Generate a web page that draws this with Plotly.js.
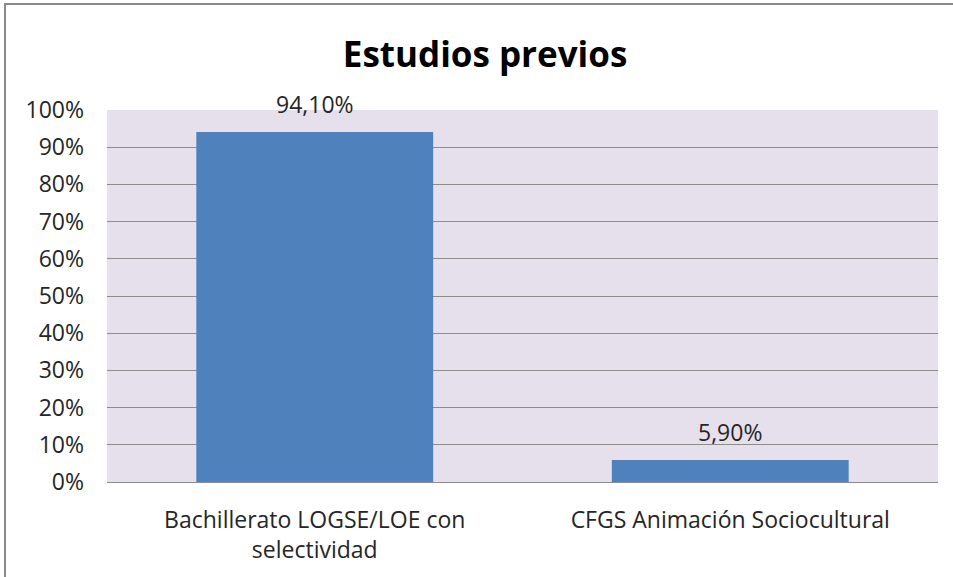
<!DOCTYPE html>
<html>
<head>
<meta charset="utf-8">
<script src="https://cdn.plot.ly/plotly-3.0.1.min.js"></script>
<style>
html,body{margin:0;padding:0;background:#fff;overflow:hidden;}
#frame{position:absolute;left:4px;top:3px;width:1000px;height:1000px;border:2px solid #8a8a8a;box-sizing:border-box;pointer-events:none;z-index:5;}
#chart{position:absolute;left:0;top:0;width:953px;height:577px;}
</style>
</head>
<body>
<div id="chart"></div>
<div id="frame"></div>
<script>
const categories = ["Bachillerato LOGSE/LOE con<br>selectividad", "CFGS Animación Sociocultural"];
const values = [94.1, 5.9];
const tickVals = [0,10,20,30,40,50,60,70,80,90,100];

const fontFam = "Open Sans, Liberation Sans, sans-serif";

const trace = {
  type: 'bar',
  x: categories,
  y: values,
  marker: {color: '#4F81BD'},
  hoverinfo: 'none'
};

const annotations = categories.map((c, i) => ({
  x: c, y: values[i], xref: 'x', yref: 'y',
  text: values[i].toFixed(2).replace('.', ',') + '%',
  showarrow: false, yanchor: 'bottom', yshift: 10,
  font: {family: fontFam, size: 23, color: '#262626'}
}));

const layout = {
  width: 953, height: 577,
  margin: {l: 107, r: 15, t: 110, b: 95},
  paper_bgcolor: '#ffffff',
  plot_bgcolor: '#E6E0EC',
  title: {text: '<b>Estudios previos</b>', x: 0.509, xanchor: 'center', y: 0.905, yanchor: 'middle',
          font: {family: fontFam, size: 35, color: '#000'}},
  bargap: 0.43,
  showlegend: false,
  xaxis: {
    tickfont: {family: fontFam, size: 23, color: '#262626'},
    showgrid: false, zeroline: false, showline: false,
    ticks: '', ticklabelstandoff: 22
  },
  yaxis: {
    range: [0, 100], tickvals: tickVals,
    ticktext: tickVals.map(v => v + '%'),
    tickfont: {family: fontFam, size: 23, color: '#262626'},
    showgrid: true, gridcolor: '#8c8c8c', gridwidth: 1,
    zeroline: true, zerolinecolor: '#8c8c8c', zerolinewidth: 1,
    showline: false, ticks: '', ticklabelstandoff: 22
  },
  annotations: annotations
};

Plotly.newPlot('chart', [trace], layout, {displayModeBar: false, staticPlot: true});
</script>
</body>
</html>
